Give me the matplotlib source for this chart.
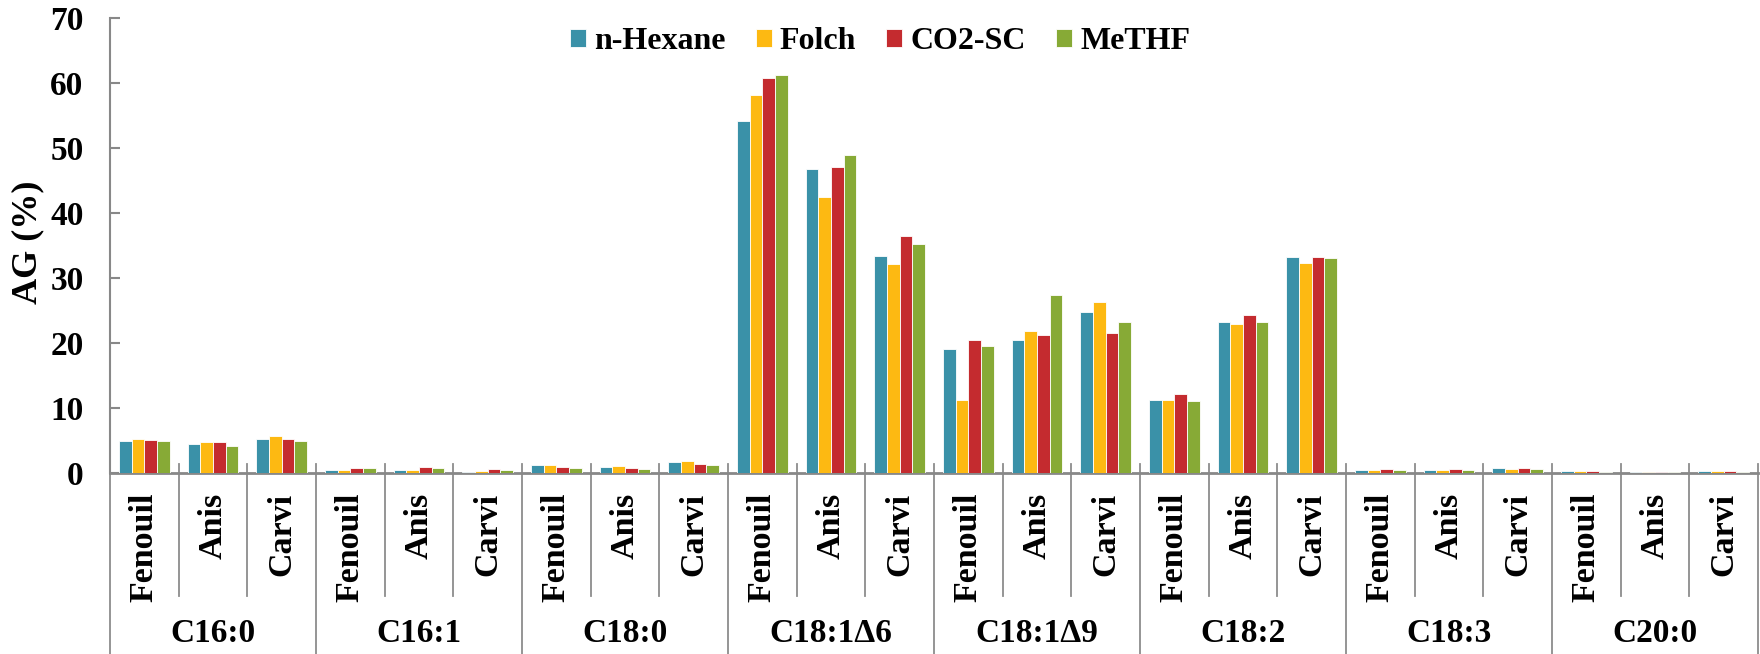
import numpy as np
import matplotlib
matplotlib.use("Agg")
import matplotlib.pyplot as plt


# ----------------------------
# Data
# ----------------------------

fatty_acids = ["C16:0", "C16:1", "C18:0", "C18:1\u03946", "C18:1\u03949",
               "C18:2", "C18:3", "C20:0"]
plants = ["Fenouil", "Anis", "Carvi"]
solvents = ["n-Hexane", "Folch", "CO2-SC", "MeTHF"]

# one value per (fatty acid, plant), plant order Fenouil / Anis / Carvi
hexane = [5.0, 4.4, 5.3,  0.4, 0.5, 0.15,  1.3, 0.9, 1.7,  54.2, 46.7, 33.4,
          19.1, 20.4, 24.8,  11.3, 23.2, 33.2,  0.5, 0.5, 0.8,  0.3, 0.1, 0.3]
folch = [5.3, 4.8, 5.7,  0.4, 0.5, 0.25,  1.3, 1.1, 1.9,  58.1, 42.4, 32.1,
         11.2, 21.8, 26.3,  11.2, 22.9, 32.3,  0.5, 0.5, 0.6,  0.3, 0.1, 0.25]
co2_sc = [5.1, 4.8, 5.3,  0.8, 0.9, 0.6,  0.9, 0.8, 1.4,  60.8, 47.1, 36.4,
          20.4, 21.2, 21.5,  12.1, 24.3, 33.3,  0.6, 0.6, 0.8,  0.25, 0.1, 0.3]
methf = [5.0, 4.2, 5.0,  0.75, 0.7, 0.5,  0.8, 0.6, 1.2,  61.2, 49.0, 35.2,
         19.6, 27.4, 23.2,  11.1, 23.3, 33.1,  0.4, 0.5, 0.6,  0.15, 0.1, 0.15]

series = [hexane, folch, co2_sc, methf]
colors = ["#3A91A8", "#FDB912", "#C42B2F", "#87AA36"]


# ----------------------------
# Figure
# ----------------------------

plt.rcParams["font.family"] = ["Liberation Serif", "DejaVu Serif"]
plt.rcParams["font.weight"] = "bold"

W, H = 1760, 654
fig = plt.figure(figsize=(W / 100, H / 100), dpi=100)
x_left, x_right, y_zero, y_top = 110, 1758, 473, 18
ax = fig.add_axes([x_left / W, 1 - y_zero / H,
                   (x_right - x_left) / W, (y_zero - y_top) / H])

n_slots = len(fatty_acids) * len(plants)
x = np.arange(n_slots) + 0.5
bar_w = 0.185

for i, (vals, col, name) in enumerate(zip(series, colors, solvents)):
    ax.bar(x + (i - 1.5) * bar_w, vals, width=bar_w, color=col,
           edgecolor="white", linewidth=0.6, label=name, zorder=3)

ax.set_xlim(0, n_slots)
ax.set_ylim(0, 70)
ax.set_yticks(np.arange(0, 71, 10))
ax.tick_params(axis="y", direction="in", length=7, width=1.5,
               color="#888888", labelsize=24, pad=19)
ax.set_xticks([])

for s in ["top", "right"]:
    ax.spines[s].set_visible(False)
ax.spines["left"].set_color("#888888")
ax.spines["left"].set_linewidth(1.5)
ax.spines["bottom"].set_color("#888888")
ax.spines["bottom"].set_linewidth(2.0)


# ----------------------------
# Two-level category axis
# ----------------------------

tr = ax.get_xaxis_transform()
px = 1.0 / (y_zero - y_top)      # one pixel in axes fraction
line_kw = dict(color="#8c8c8c", linewidth=1.3, transform=tr,
               clip_on=False, zorder=1)

for k in range(n_slots + 1):
    if k % len(plants) == 0:
        ax.plot([k, k], [9 * px, -200 * px], **line_kw)
    else:
        ax.plot([k, k], [9 * px, -(596 - y_zero) * px], **line_kw)

for k in range(n_slots):
    ax.text(x[k], -(493 - y_zero) * px, plants[k % len(plants)],
            transform=tr, rotation=90, ha="center", va="top",
            fontsize=24.5, fontweight="bold")

for g, fa in enumerate(fatty_acids):
    ax.text(g * len(plants) + len(plants) / 2, -(633 - y_zero) * px, fa,
            transform=tr, ha="center", va="center", fontsize=24,
            fontweight="bold")

fig.text(27.5 / W, 1 - 242 / H, "AG (%)", rotation=90, ha="center",
         va="center", fontsize=26, fontweight="bold")

fig.legend(loc="center", bbox_to_anchor=(0.5, 1 - 41.5 / H), ncol=4,
           frameon=False, fontsize=23, handlelength=0.5, handleheight=0.5,
           handletextpad=0.25, columnspacing=0.95)

fig.savefig("out.png", dpi=100)
plt.close(fig)
